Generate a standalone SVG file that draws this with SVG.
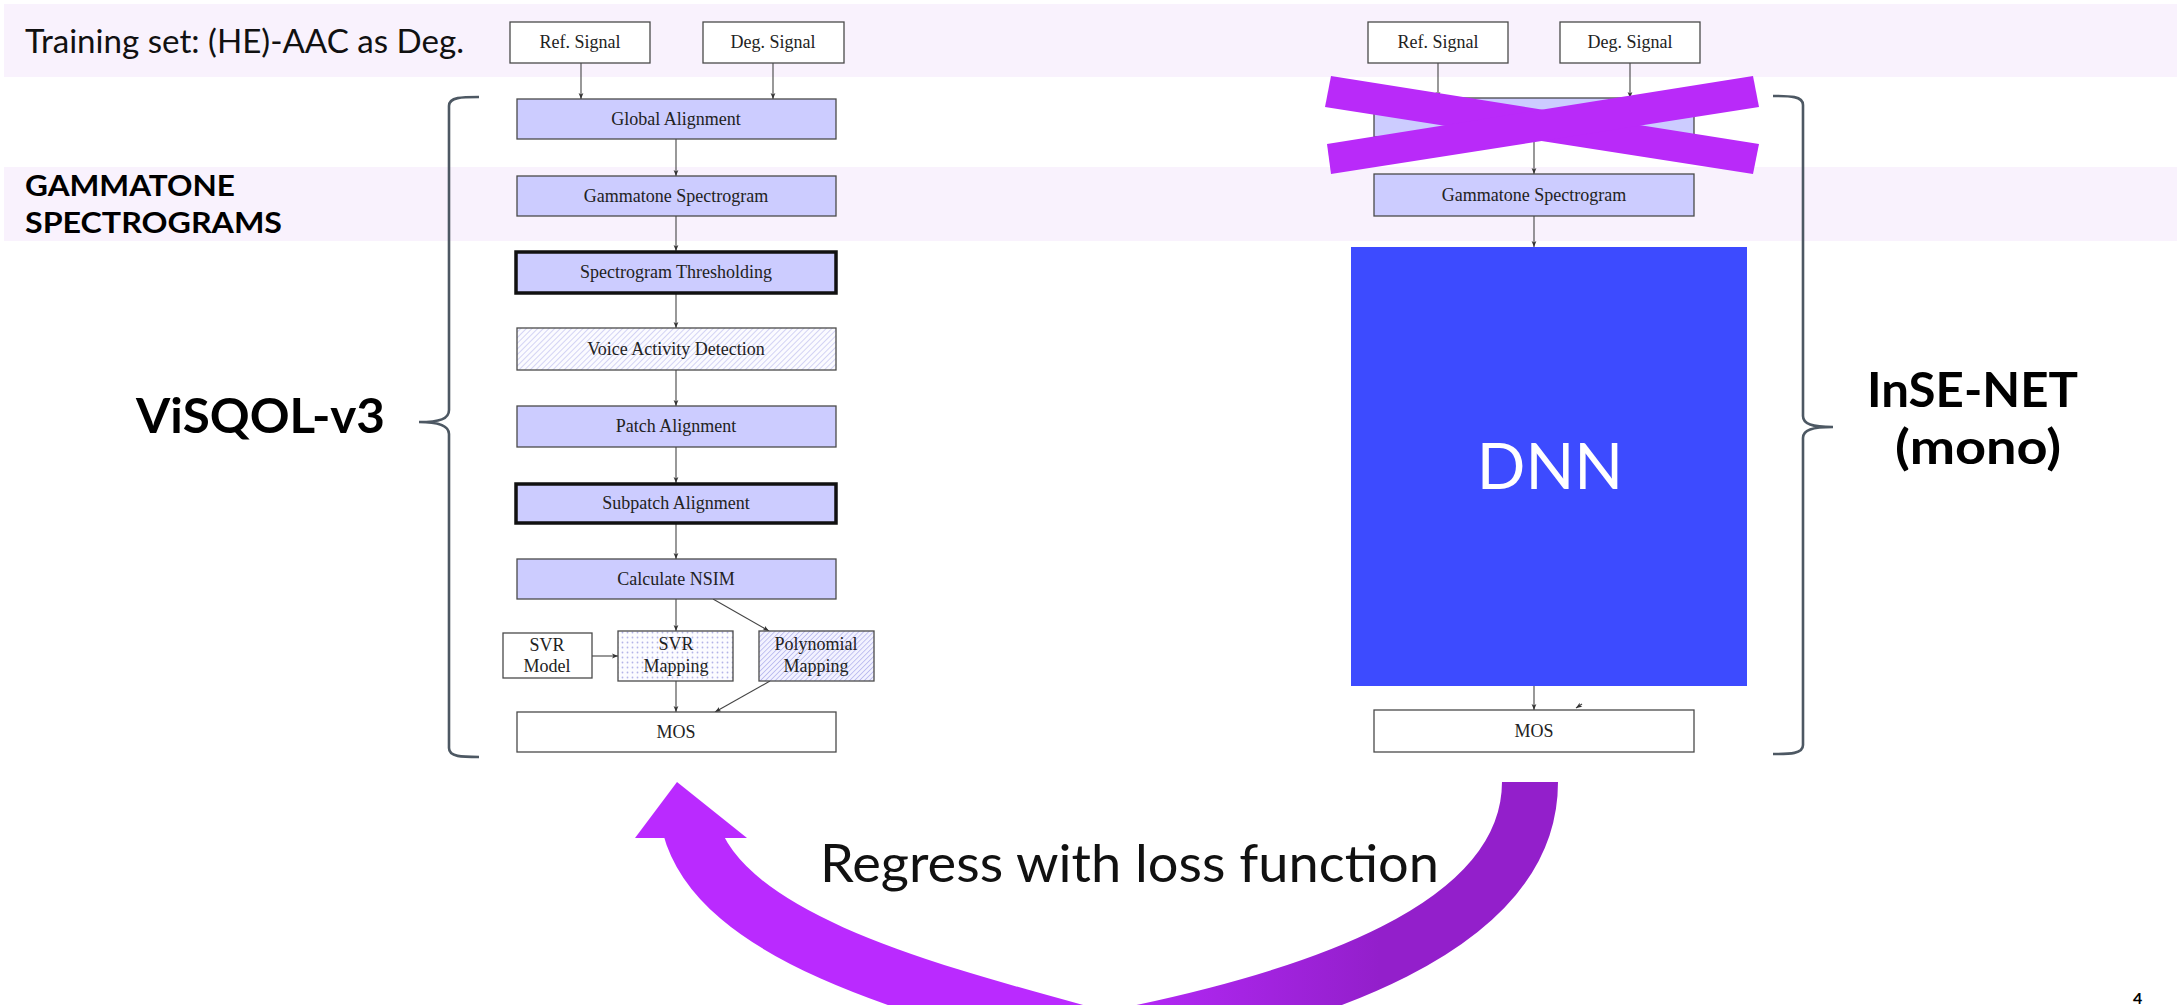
<svg xmlns="http://www.w3.org/2000/svg" width="2177" height="1005" viewBox="0 0 2177 1005">
<defs>
<style>
.band{fill:#f9f2fd}
.box{fill:#ccccff;stroke:#4a4a4a;stroke-width:1.3}
.wbox{fill:#ffffff;stroke:#4a4a4a;stroke-width:1.3}
.thick{fill:#ccccff;stroke:#111;stroke-width:3.5}
.lbl{font-family:"Liberation Serif","Times New Roman",serif;font-size:18px;fill:#222;text-anchor:middle}
.conn{stroke:#444;stroke-width:1.1;fill:none;marker-end:url(#ah)}
.brace{stroke:#4d5863;stroke-width:2.6;fill:none}
.sans{font-family:Lato,"Open Sans",sans-serif;fill:#111}
.big{font-family:Lato,"Open Sans",sans-serif;font-weight:700;fill:#000}
</style>
<marker id="ah" viewBox="0 0 10 10" refX="10" refY="5" markerWidth="7" markerHeight="6" orient="auto" markerUnits="userSpaceOnUse">
<path d="M0,1 L10,5 L0,9 L2.5,5 z" fill="#333"/>
</marker>
<pattern id="hatch" width="4" height="4" patternUnits="userSpaceOnUse" patternTransform="rotate(45)">
<rect width="4" height="4" fill="#fbfbff"/>
<line x1="0" y1="0" x2="0" y2="4" stroke="#b9b9ee" stroke-width="1.2"/>
</pattern>
<pattern id="hatch2" width="3.5" height="3.5" patternUnits="userSpaceOnUse" patternTransform="rotate(45)">
<rect width="3.5" height="3.5" fill="#f2f2ff"/>
<line x1="0" y1="0" x2="0" y2="3.5" stroke="#aeaeec" stroke-width="1.4"/>
</pattern>
<pattern id="dots" width="5" height="5" patternUnits="userSpaceOnUse">
<rect width="5" height="5" fill="#fcfcff"/>
<circle cx="2.5" cy="2.5" r="0.9" fill="#b5b5e8"/>
</pattern>
<linearGradient id="arc" gradientUnits="userSpaceOnUse" x1="1080" y1="0" x2="1380" y2="0">
<stop offset="0" stop-color="#ba2aff"/>
<stop offset="1" stop-color="#931fcb"/>
</linearGradient>
</defs>

<rect width="2177" height="1005" fill="#ffffff"/>

<g id="bands">
<rect class="band" x="4" y="4" width="2173" height="73"/>
<rect class="band" x="4" y="167" width="2173" height="74"/>
</g>

<g id="labels">
<text class="sans" x="25" y="53" font-size="32" textLength="439" lengthAdjust="spacingAndGlyphs">Training set: (HE)-AAC as Deg.</text>
<text class="big" x="25" y="196" font-size="29" textLength="210" lengthAdjust="spacingAndGlyphs">GAMMATONE</text>
<text class="big" x="25" y="233" font-size="29" textLength="257" lengthAdjust="spacingAndGlyphs">SPECTROGRAMS</text>
<text class="big" x="136" y="433" font-size="48" textLength="249" lengthAdjust="spacingAndGlyphs">ViSQOL-v3</text>
<text class="big" x="1867" y="407" font-size="47" textLength="211" lengthAdjust="spacingAndGlyphs">InSE-NET</text>
<text class="big" x="1895" y="464" font-size="47" textLength="166" lengthAdjust="spacingAndGlyphs">(mono)</text>
<text class="sans" x="820" y="882" font-size="52" textLength="619" lengthAdjust="spacingAndGlyphs">Regress with loss function</text>
<text class="big" x="2133" y="1004" font-size="16">4</text>
</g>

<g id="braces">
<path class="brace" d="M479,97 C462,97 449,97 449,106 L449,410 C449,419 440,422 419,422 C440,422 449,426 449,434 L449,748 C449,757 462,757 479,757"/>
<path class="brace" d="M1773,96 C1790,96 1803,96 1803,105 L1803,416 C1803,424 1812,427 1833,427 C1812,427 1803,430 1803,438 L1803,745 C1803,754 1790,754 1773,754"/>
</g>

<g id="connectors">
<line class="conn" x1="581" y1="63" x2="581" y2="99"/>
<line class="conn" x1="773" y1="63" x2="773" y2="99"/>
<line class="conn" x1="676" y1="139" x2="676" y2="176"/>
<line class="conn" x1="676" y1="216" x2="676" y2="251"/>
<line class="conn" x1="676" y1="294" x2="676" y2="328"/>
<line class="conn" x1="676" y1="370" x2="676" y2="406"/>
<line class="conn" x1="676" y1="447" x2="676" y2="483"/>
<line class="conn" x1="676" y1="524" x2="676" y2="559"/>
<line class="conn" x1="676" y1="599" x2="676" y2="631"/>
<line class="conn" x1="713" y1="599" x2="769" y2="631"/>
<line class="conn" x1="592" y1="656" x2="618" y2="656"/>
<line class="conn" x1="676" y1="681" x2="676" y2="712"/>
<line class="conn" x1="770" y1="681" x2="715" y2="712"/>
<line class="conn" x1="1438" y1="63" x2="1438" y2="98"/>
<line class="conn" x1="1630" y1="63" x2="1630" y2="98"/>
<line class="conn" x1="1534" y1="137" x2="1534" y2="174"/>
<line class="conn" x1="1534" y1="216" x2="1534" y2="247"/>
<line class="conn" x1="1534" y1="686" x2="1534" y2="710"/>
<line class="conn" x1="1582" y1="704" x2="1576" y2="708"/>
</g>

<g id="left-ref"><rect class="wbox" x="510" y="22" width="140" height="41"/><text class="lbl" x="580" y="48">Ref. Signal</text></g>
<g id="left-deg"><rect class="wbox" x="703" y="22" width="141" height="41"/><text class="lbl" x="773" y="48">Deg. Signal</text></g>
<g id="left-global"><rect class="box" x="517" y="99" width="319" height="40"/><text class="lbl" x="676" y="125">Global Alignment</text></g>
<g id="left-gamma"><rect class="box" x="517" y="176" width="319" height="40"/><text class="lbl" x="676" y="202">Gammatone Spectrogram</text></g>
<g id="left-thresh"><rect class="thick" x="516" y="252" width="320" height="41"/><text class="lbl" x="676" y="278">Spectrogram Thresholding</text></g>
<g id="left-vad"><rect class="wbox" x="517" y="328" width="319" height="42" style="fill:url(#hatch)"/><text class="lbl" x="676" y="355">Voice Activity Detection</text></g>
<g id="left-patch"><rect class="box" x="517" y="406" width="319" height="41"/><text class="lbl" x="676" y="432">Patch Alignment</text></g>
<g id="left-subpatch"><rect class="thick" x="516" y="484" width="320" height="39"/><text class="lbl" x="676" y="509">Subpatch Alignment</text></g>
<g id="left-nsim"><rect class="box" x="517" y="559" width="319" height="40"/><text class="lbl" x="676" y="585">Calculate NSIM</text></g>
<g id="left-svrmodel"><rect class="wbox" x="503" y="633" width="89" height="45"/><text class="lbl" x="547" y="651">SVR</text><text class="lbl" x="547" y="672">Model</text></g>
<g id="left-svrmap"><rect class="wbox" x="618" y="631" width="115" height="50" style="fill:url(#dots)"/><text class="lbl" x="676" y="650">SVR</text><text class="lbl" x="676" y="672">Mapping</text></g>
<g id="left-poly"><rect class="wbox" x="759" y="631" width="115" height="50" style="fill:url(#hatch2)"/><text class="lbl" x="816" y="650">Polynomial</text><text class="lbl" x="816" y="672">Mapping</text></g>
<g id="left-mos"><rect class="wbox" x="517" y="712" width="319" height="40"/><text class="lbl" x="676" y="738">MOS</text></g>

<g id="right-ref"><rect class="wbox" x="1368" y="22" width="140" height="41"/><text class="lbl" x="1438" y="48">Ref. Signal</text></g>
<g id="right-deg"><rect class="wbox" x="1560" y="22" width="140" height="41"/><text class="lbl" x="1630" y="48">Deg. Signal</text></g>
<g id="right-global"><rect class="box" x="1374" y="98" width="320" height="39"/></g>
<g id="right-gamma"><rect class="box" x="1374" y="174" width="320" height="42"/><text class="lbl" x="1534" y="201">Gammatone Spectrogram</text></g>
<g id="right-dnn"><rect x="1351" y="247" width="396" height="439" fill="#3d4bff"/><text x="1550" y="489" font-family="Lato,'Open Sans',sans-serif" font-size="64" fill="#ffffff" text-anchor="middle">DNN</text></g>
<g id="right-mos"><rect class="wbox" x="1374" y="710" width="320" height="42"/><text class="lbl" x="1534" y="737">MOS</text></g>

<g id="cross" fill="#b92af9">
<polygon points="1331,76 1759,144 1753,174 1325,107"/>
<polygon points="1327,144 1753,76 1759,107 1331,174"/>
</g>

<g id="regress-arrow">
<path d="M1530,782 C1530,930 1310,1000 1105,1040 C930,992 720,940 690,826" fill="none" stroke="url(#arc)" stroke-width="56" stroke-linejoin="miter"/>
<polygon points="677,782 747,838 635,838" fill="#ba2aff"/>
</g>
</svg>
